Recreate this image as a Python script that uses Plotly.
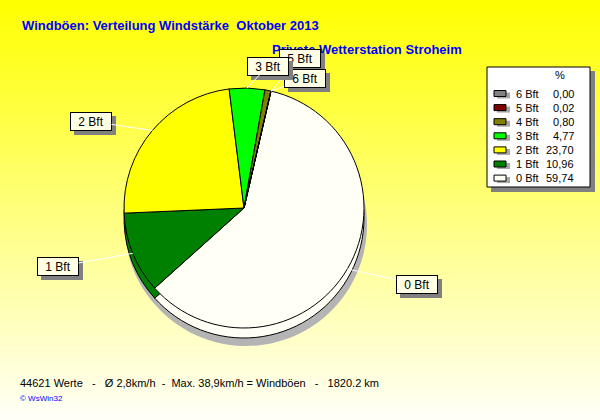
import math
import plotly.graph_objects as go

# ---------------- data ----------------
categories = ["0 Bft", "1 Bft", "2 Bft", "3 Bft", "4 Bft", "5 Bft", "6 Bft"]
percent = [59.74, 10.96, 23.70, 4.77, 0.80, 0.02, 0.00]
colors = ["#FFFFF6", "#008000", "#FFFF00", "#00FF00", "#808000", "#800000", "#808080"]

title_text = "Windböen: Verteilung Windstärke  Oktober 2013"
subtitle_text = "Private Wetterstation Stroheim"
footer_text = "44621 Werte   -   Ø 2,8km/h  -  Max. 38,9km/h = Windböen   -   1820.2 km"
credit_text = "© WsWin32"

# ---------------- layout helpers ----------------
W, H = 600, 420
CX, CY, R = 244, 208, 120          # pie centre / radius in px
ROT = 13                           # start angle of first slice (deg, clockwise from 12 o'clock)
LRX, LRY = 190, 142                # label ellipse
label_order = ["0 Bft", "1 Bft", "2 Bft", "5 Bft", "6 Bft", "3 Bft"]
label_tweak = {"3 Bft": (19, 0), "5 Bft": (13, -11), "6 Bft": (18, 9), "1 Bft": (-10, 5), "2 Bft": (-8, 5),
               "0 Bft": (9, 4)}


def X(px):
    return px / W


def Y(py):
    return 1 - py / H


def dom(cx, cy, r):
    return dict(x=[X(cx - r), X(cx + r)], y=[Y(cy + r), Y(cy - r)])


fig = go.Figure()

# shadow of pie
fig.add_trace(go.Pie(
    labels=categories, values=percent, sort=False, direction="clockwise", rotation=ROT,
    marker=dict(colors=["#B4B4B4"] * len(categories), line=dict(width=0)),
    textinfo="none", hoverinfo="skip", showlegend=False, domain=dom(CX + 2, CY + 17, R + 1)))
# side (depth) of pie
fig.add_trace(go.Pie(
    labels=categories, values=percent, sort=False, direction="clockwise", rotation=ROT,
    marker=dict(colors=colors, line=dict(color="black", width=1)),
    textinfo="none", hoverinfo="skip", showlegend=False, domain=dom(CX, CY + 10, R)))
# top face
fig.add_trace(go.Pie(
    labels=categories, values=percent, sort=False, direction="clockwise", rotation=ROT,
    marker=dict(colors=colors, line=dict(color="black", width=1)),
    textinfo="none", showlegend=False, domain=dom(CX, CY, R)))

shapes = []
# background gradient
n = 84
for i in range(n):
    b = int(round(248 * (i + 0.5) / n))
    shapes.append(dict(type="rect", xref="paper", yref="paper", layer="below",
                       x0=0, x1=1, y0=Y((i + 1) * H / n + 0.5), y1=Y(i * H / n),
                       fillcolor=f"rgb(255,255,{b})", line=dict(width=0)))

annotations = []
annotations.append(dict(text="<b>" + subtitle_text + "</b>", x=X(270), y=Y(49), xref="paper", yref="paper",
                        xanchor="left", yanchor="middle", showarrow=False,
                        font=dict(family="Arial", size=13, color="#0000FF")))

# slice labels
total = sum(percent)
start = ROT
mid = {}
for c, v in zip(categories, percent):
    span = 360 * v / total
    mid[c] = start + span / 2
    start += span

for c in label_order:
    th = math.radians(mid[c])
    tx, ty = CX + R * math.sin(th), CY - R * math.cos(th)
    dx, dy = label_tweak.get(c, (0, 0))
    lx, ly = CX + LRX * math.sin(th) + dx, CY - LRY * math.cos(th) + dy
    annotations.append(dict(text="\u00a0", x=X(lx), y=Y(ly), xref="paper", yref="paper",
                            xanchor="center", yanchor="middle",
                            showarrow=False, xshift=4, yshift=-4, width=38, height=15,
                            bgcolor="#808080", bordercolor="#808080", borderwidth=1,
                            font=dict(family="Arial", size=12, color="#808080")))
    annotations.append(dict(text=c, x=X(tx), y=Y(ty), xref="paper", yref="paper",
                            xanchor="center", yanchor="middle",
                            ax=lx - tx, ay=ly - ty, showarrow=True, arrowhead=0, arrowwidth=1,
                            arrowcolor="white", standoff=0, width=38, height=15,
                            bgcolor="#FFFFE6", bordercolor="black", borderwidth=1,
                            font=dict(family="Arial", size=12, color="black")))

# custom legend box
shapes.append(dict(type="rect", xref="paper", yref="paper", x0=X(491), x1=X(595), y0=Y(192), y1=Y(71),
                   fillcolor="#808080", line=dict(width=0)))
shapes.append(dict(type="rect", xref="paper", yref="paper", x0=X(487), x1=X(590), y0=Y(187), y1=Y(67),
                   fillcolor="white", line=dict(color="black", width=1)))
annotations.append(dict(text="%", x=X(560), y=Y(75), xref="paper", yref="paper", showarrow=False,
                        xanchor="center", yanchor="middle", font=dict(family="Arial", size=11, color="black")))
for k, (c, v, col) in enumerate(reversed(list(zip(categories, percent, colors)))):
    cy = 93.5 + 14.1 * k
    shapes.append(dict(type="rect", xref="paper", yref="paper", x0=X(497), x1=X(510), y0=Y(cy + 5), y1=Y(cy - 1),
                       fillcolor="#A8A8A8", line=dict(width=0)))
    shapes.append(dict(type="rect", xref="paper", yref="paper", x0=X(494), x1=X(506), y0=Y(cy + 3), y1=Y(cy - 3),
                       fillcolor=col, line=dict(color="black", width=1)))
    annotations.append(dict(text=c, x=X(514), y=Y(cy), xref="paper", yref="paper", showarrow=False,
                            xanchor="left", yanchor="middle", font=dict(family="Arial", size=11, color="black")))
    annotations.append(dict(text=f"{v:.2f}".replace(".", ","), x=X(576), y=Y(cy), xref="paper", yref="paper",
                            showarrow=False, xanchor="right", yanchor="middle",
                            font=dict(family="Arial", size=11, color="black")))

# footer
annotations.append(dict(text=footer_text.replace(" ", "\u00a0"), x=X(18), y=Y(383), xref="paper", yref="paper",
                        showarrow=False, xanchor="left", yanchor="middle",
                        font=dict(family="Arial", size=11, color="black")))
annotations.append(dict(text=credit_text, x=X(18), y=Y(398), xref="paper", yref="paper",
                        showarrow=False, xanchor="left", yanchor="middle",
                        font=dict(family="Arial", size=8, color="#0000FF")))

fig.update_layout(
    width=W, height=H, margin=dict(l=0, r=0, t=0, b=0),
    paper_bgcolor="#FFFF00", plot_bgcolor="rgba(0,0,0,0)",
    title=dict(text="<b>" + title_text + "</b>", x=X(22), xanchor="left", y=Y(25), yanchor="middle",
               font=dict(family="Arial", size=13, color="#0000FF")),
    shapes=shapes, annotations=annotations, showlegend=False,
)

fig.write_html("out.html", config={"displayModeBar": False},
               post_script="document.body.style.margin='0';document.body.style.overflow='hidden';")
